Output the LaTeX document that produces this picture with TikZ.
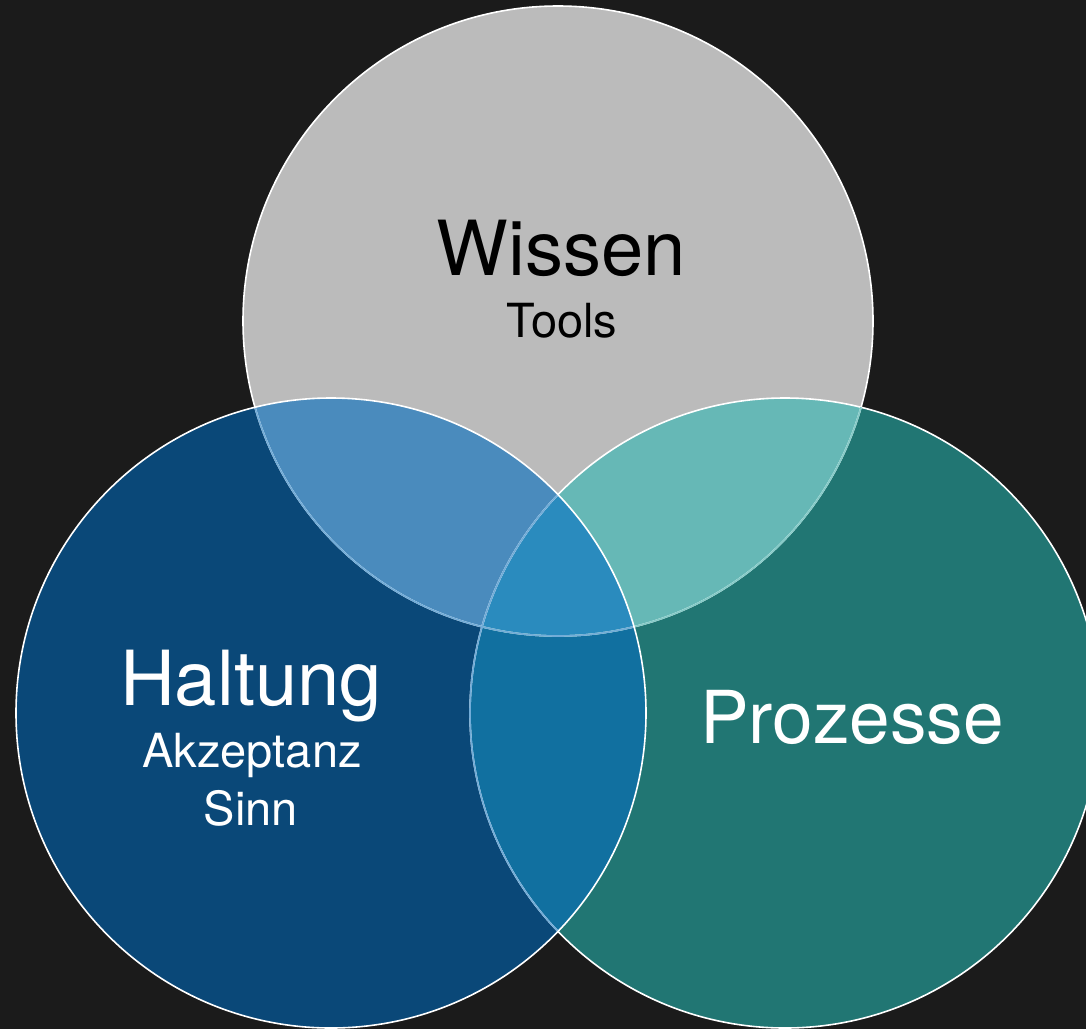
\documentclass[tikz,border=0pt]{standalone}
\usepackage{fontspec}
\setmainfont{TeX Gyre Heros}
\definecolor{bgc}{HTML}{1B1B1B}
\definecolor{grayc}{HTML}{BBBBBB}
\definecolor{bluec}{HTML}{0A4878}
\definecolor{tealc}{HTML}{217673}
\definecolor{gbc}{HTML}{4A8BBD}
\definecolor{gtc}{HTML}{66B8B6}
\definecolor{btc}{HTML}{1170A0}
\definecolor{allc}{HTML}{2A8BBE}
\definecolor{lineb}{HTML}{72ACD8}
\definecolor{linet}{HTML}{86CBC8}
\tikzset{
  big/.style={inner sep=0pt, anchor=base, font=\fontsize{76}{76}\selectfont},
  bigp/.style={inner sep=0pt, anchor=base, font=\fontsize{73}{73}\selectfont},
  small/.style={inner sep=0pt, anchor=base, font=\fontsize{47}{47}\selectfont},
  rim/.style={line width=1.6pt}
}
\begin{document}
\begin{tikzpicture}[x=1pt,y=-1pt]
\useasboundingbox (0,0) rectangle (1086,1029);
\fill[bgc] (0,0) rectangle (1086,1029);
\clip (0,0) rectangle (1086,1029);
\coordinate (cg) at (558,321);
\coordinate (cb) at (331,713);
\coordinate (ct) at (785,713);
\def\R{315pt}
% base fills
\fill[grayc] (cg) circle (\R);
\fill[bluec] (cb) circle (\R);
\fill[tealc] (ct) circle (\R);
% pairwise overlaps
\begin{scope}\clip (cg) circle (\R); \fill[gbc] (cb) circle (\R);\end{scope}
\begin{scope}\clip (cg) circle (\R); \fill[gtc] (ct) circle (\R);\end{scope}
\begin{scope}\clip (cb) circle (\R); \fill[btc] (ct) circle (\R);\end{scope}
% triple
\begin{scope}\clip (cg) circle (\R); \clip (cb) circle (\R); \fill[allc] (ct) circle (\R);\end{scope}
% outlines
\draw[rim, white] (cg) circle (\R);
\draw[rim, white] (ct) circle (\R);
\begin{scope}\clip (ct) circle (\R); \draw[rim, linet] (cg) circle (\R);\end{scope}
\begin{scope}\clip (cb) circle (\R);
  \draw[rim, lineb] (cg) circle (\R);
  \draw[rim, lineb] (ct) circle (\R);
\end{scope}
\draw[rim, white] (cb) circle (\R);
% texts
\node[big, text=black] (wissen) at (561,275) {Wissen};
\node[small, text=black] (tools) at (562,337) {Tools};
\node[big, text=white] (haltung) at (251,705) {Haltung};
\node[small, text=white] (akz) at (252,767) {Akzeptanz};
\node[small, text=white] (sinn) at (251,825) {Sinn};
\node[bigp, text=white] (proz) at (852,743) {Prozesse};
\end{tikzpicture}
\end{document}
